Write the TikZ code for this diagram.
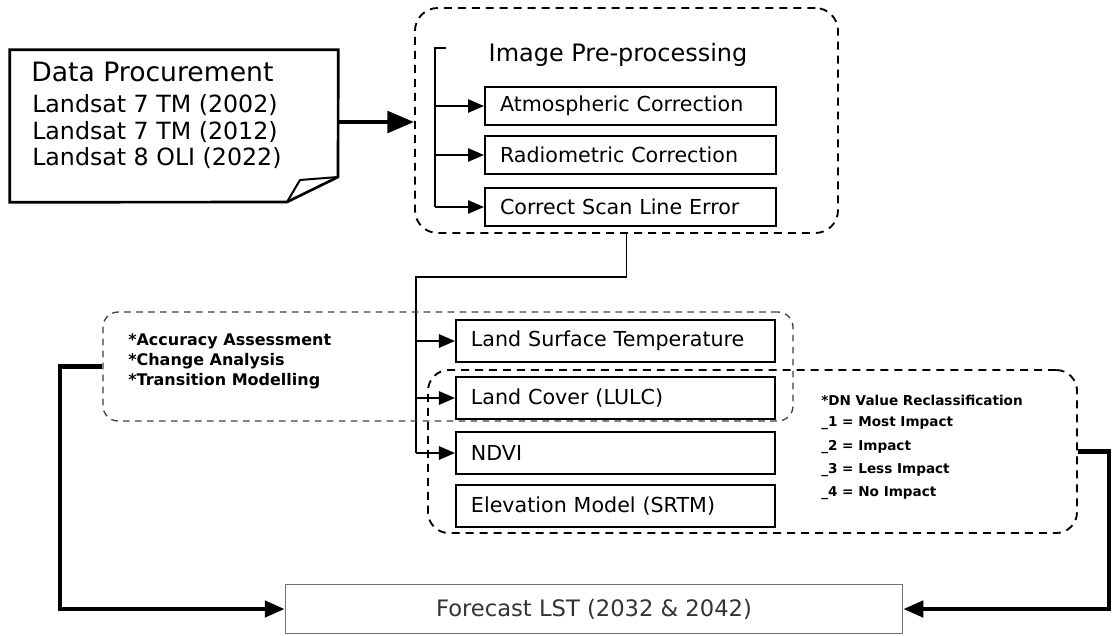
\documentclass[tikz,border=0pt]{standalone}
\usepackage{fontspec}
\setmainfont{DejaVu Sans}
\usetikzlibrary{arrows.meta,fit}

\begin{document}
\begin{tikzpicture}[x=0.0264cm, y=-0.0264cm,
    ppbox/.style={draw, line width=1.3pt, text width=6.89cm, inner xsep=0.4cm, inner ysep=0pt,
      minimum height=1.0cm, align=left, font=\fontsize{15.5}{18}\selectfont},
    lbox/.style={ppbox, text width=7.63cm, minimum height=1.1cm},
    frame/.style={draw, line width=1.4pt, dash pattern=on 6pt off 4.5pt, rounded corners=0.6cm, inner sep=0pt},
    link/.style={line width=1.3pt, -{Triangle[length=12pt,width=10pt]}},
    fat/.style={line width=3.4pt, -{Triangle[length=15pt,width=12pt]}},
    note/.style={anchor=west, inner sep=0pt, font=\bfseries\fontsize{10.2}{12}\selectfont},
    task/.style={anchor=west, inner sep=0pt, font=\bfseries\fontsize{12}{14}\selectfont}]

    \useasboundingbox (0, 0) rectangle (1113, 635);

    % data procurement (note sheet)
    \node [fit={(10, 50) (338, 202)}, inner sep=0pt] (dp) {};
    \draw [line width=2pt] (dp.north west) -- (dp.north east) -- (338, 177) -- (287, 202) -- (dp.south west) -- cycle;
    \draw [line width=1.5pt] (338, 177) -- (300, 180) -- (287, 202);
    \node [anchor=west, inner sep=0pt, font=\fontsize{20}{24}\selectfont] (dptitle) at (31, 72) {Data Procurement};
    \node [anchor=west, inner sep=0pt, font=\fontsize{17.8}{21}\selectfont] (ls1) at (32, 105) {Landsat 7 TM (2002)};
    \node [anchor=west, inner sep=0pt, font=\fontsize{17.8}{21}\selectfont] (ls2) at (32, 132) {Landsat 7 TM (2012)};
    \node [anchor=west, inner sep=0pt, font=\fontsize{17.8}{21}\selectfont] (ls3) at (32, 158) {Landsat 8 OLI (2022)};

    % image pre-processing
    \node [frame, fit={(415, 8) (838, 233)}] (pp) {};
    \node [font=\fontsize{18}{22}\selectfont] (pptitle) at (618, 55) {Image Pre-processing};
    \node [ppbox] (atm) at (630.5, 106) {Atmospheric Correction};
    \node [ppbox] (rad) at (630.5, 155) {Radiometric Correction};
    \node [ppbox] (scan) at (630.5, 207) {Correct Scan Line Error};

    \coordinate (brtick) at (446, 48);
    \coordinate (brtop) at (435, 48);
    \draw [line width=1.3pt] (brtick) -- (brtop) -- (brtop |- scan);
    \foreach \b in {atm, rad, scan}
      \draw [link] (brtop |- \b) -- (\b);

    \draw [fat, -{Triangle[length=20pt,width=16pt]}] ([yshift=3pt]dp.east) -- ([yshift=3pt]dp.east -| pp.west);

    % derived layers
    \node [lbox] (lst) at (615.5, 341) {Land Surface Temperature};
    \node [lbox] (lc) at (615.5, 398) {Land Cover (LULC)};
    \node [lbox] (ndvi) at (615.5, 453) {NDVI};
    \node [lbox] (dem) at (615.5, 506) {Elevation Model (SRTM)};

    \coordinate (split) at (416, 277);
    \draw [line width=1.3pt] (pp.south) |- (split) -- (split |- ndvi);
    \draw [link] (split |- lst) -- (lst);
    \draw [link] (split |- lc) -- (lc);
    \draw [link] (split |- ndvi) -- (ndvi);

    % analysis frames
    \node [frame, line width=1pt, draw=black!75, dash pattern=on 5pt off 4pt, rounded corners=0.4cm,
      fit={(103, 312) (793, 421)}] (acc) {};
    \node [task] (t1) at (128, 341) {*Accuracy Assessment};
    \node [task] (t2) at (128, 361) {*Change Analysis};
    \node [task] (t3) at (128, 381) {*Transition Modelling};

    \node [frame, rounded corners=0.55cm, fit={(428, 370) (1077, 533)}] (dn) {};
    \node [note] (n0) at (821, 400) {*DN Value Reclassification};
    \node [note] (n1) at (821, 423) {\_1 = Most Impact};
    \node [note] (n2) at (821, 447) {\_2 = Impact};
    \node [note] (n3) at (821, 470) {\_3 = Less Impact};
    \node [note] (n4) at (821, 493) {\_4 = No Impact};

    % forecast
    \node [draw=black!55, line width=0.8pt, minimum width=16.3cm, minimum height=1.3cm, text=black!80,
      font=\fontsize{17}{20}\selectfont] (fc) at (594, 609) {Forecast LST (2032 \& 2042)};

    \coordinate (lbend) at (60, 500);
    \coordinate (rbend) at (1109, 500);
    \draw [fat] (acc.west) -| (lbend) |- (fc.west);
    \draw [fat] (dn.east) -| (rbend) |- (fc.east);

\end{tikzpicture}
\end{document}
